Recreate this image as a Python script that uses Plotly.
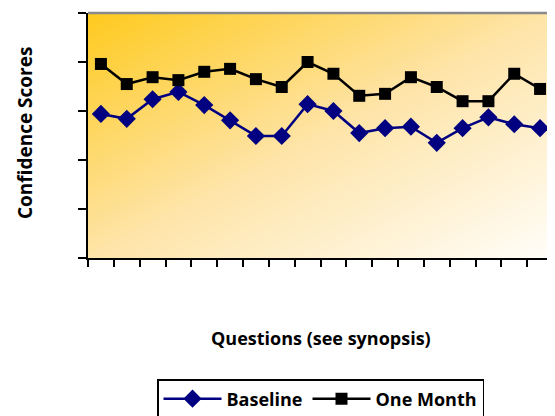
import numpy as np
import plotly.graph_objects as go

questions = list(range(1, 19))
baseline = [2.94, 2.84, 3.24, 3.39, 3.12, 2.81, 2.49, 2.49, 3.14, 3.00,
            2.55, 2.65, 2.68, 2.35, 2.65, 2.87, 2.73, 2.65]
one_month = [3.96, 3.55, 3.69, 3.63, 3.80, 3.86, 3.65, 3.49, 4.00, 3.76,
             3.31, 3.35, 3.69, 3.49, 3.20, 3.20, 3.76, 3.45]
y_ticks = [0, 1, 2, 3, 4, 5]

# background gradient (diagonal, top-left gold to bottom-right near white)
nx, ny = 93, 50
xe = np.linspace(0.5, 18.5, nx + 1)
ye = np.linspace(0, 5, ny + 1)
u = (np.arange(nx) + 0.5) / nx
v = 1 - (np.arange(ny) + 0.5) / ny
z = (u[None, :] + v[:, None]) / 2.0

FONT = "Open Sans, Lato, sans-serif"

fig = go.Figure()
fig.add_trace(go.Heatmap(
    x=xe, y=ye, z=z, zsmooth="best", showscale=False, hoverinfo="skip",
    zmin=0, zmax=1,
    colorscale=[[0, "rgb(254,202,30)"], [0.5, "rgb(254,228,168)"], [1, "rgb(255,254,250)"]],
    showlegend=False,
))
fig.add_trace(go.Scatter(
    x=questions, y=baseline, name="Baseline", mode="lines+markers",
    line=dict(color="#000080", width=2.5),
    marker=dict(symbol="diamond", size=14, color="#000080"),
))
fig.add_trace(go.Scatter(
    x=questions, y=one_month, name="One Month", mode="lines+markers",
    line=dict(color="#000000", width=2.5),
    marker=dict(symbol="square", size=12, color="#000000"),
))

W, H = 547, 408  # page body has an 8px margin
fig.update_layout(
    width=W, height=H,
    margin=dict(l=80, r=2, t=5, b=158),
    paper_bgcolor="white", plot_bgcolor="white",
    font=dict(family=FONT, color="black"),
    xaxis=dict(range=[0.5, 18.5], tickvals=[i + 0.5 for i in range(0, 19)],
               showticklabels=False, ticks="outside", ticklen=7, tickwidth=2,
               tickcolor="black", showline=True, linecolor="black", linewidth=2,
               showgrid=False, zeroline=False),
    yaxis=dict(range=[0, 5], tickvals=y_ticks, showticklabels=False,
               ticks="outside", ticklen=8, tickwidth=2, tickcolor="black",
               showline=True, linecolor="black", linewidth=2,
               showgrid=False, zeroline=False),
    legend=dict(orientation="h", x=0.5, xanchor="center", y=1 - 371 / H,
                yref="container", yanchor="top", bordercolor="black",
                borderwidth=1.5, font=dict(size=18, family=FONT, weight="bold"),
                itemwidth=58, bgcolor="white"),
    showlegend=True,
    shapes=[
        dict(type="line", xref="paper", yref="paper", x0=0, x1=1, y0=1, y1=1,
             line=dict(color="#8a8a8a", width=2.5)),
        dict(type="line", xref="paper", yref="paper", x0=1, x1=1, y0=0, y1=1,
             line=dict(color="#8a8a8a", width=2.5)),
    ],
    annotations=[
        dict(text="<b>Confidence Scores</b>", xref="paper", yref="paper",
             x=-63 / 465, y=0.51, xanchor="center", yanchor="middle",
             textangle=-90, showarrow=False, font=dict(size=19, family=FONT)),
        dict(text="<b>Questions (see synopsis)</b>", xref="paper", yref="paper",
             x=0.5, y=-80 / 245, xanchor="center", yanchor="middle",
             showarrow=False, font=dict(size=18, family=FONT)),
    ],
)

fig.write_html("out.html")
